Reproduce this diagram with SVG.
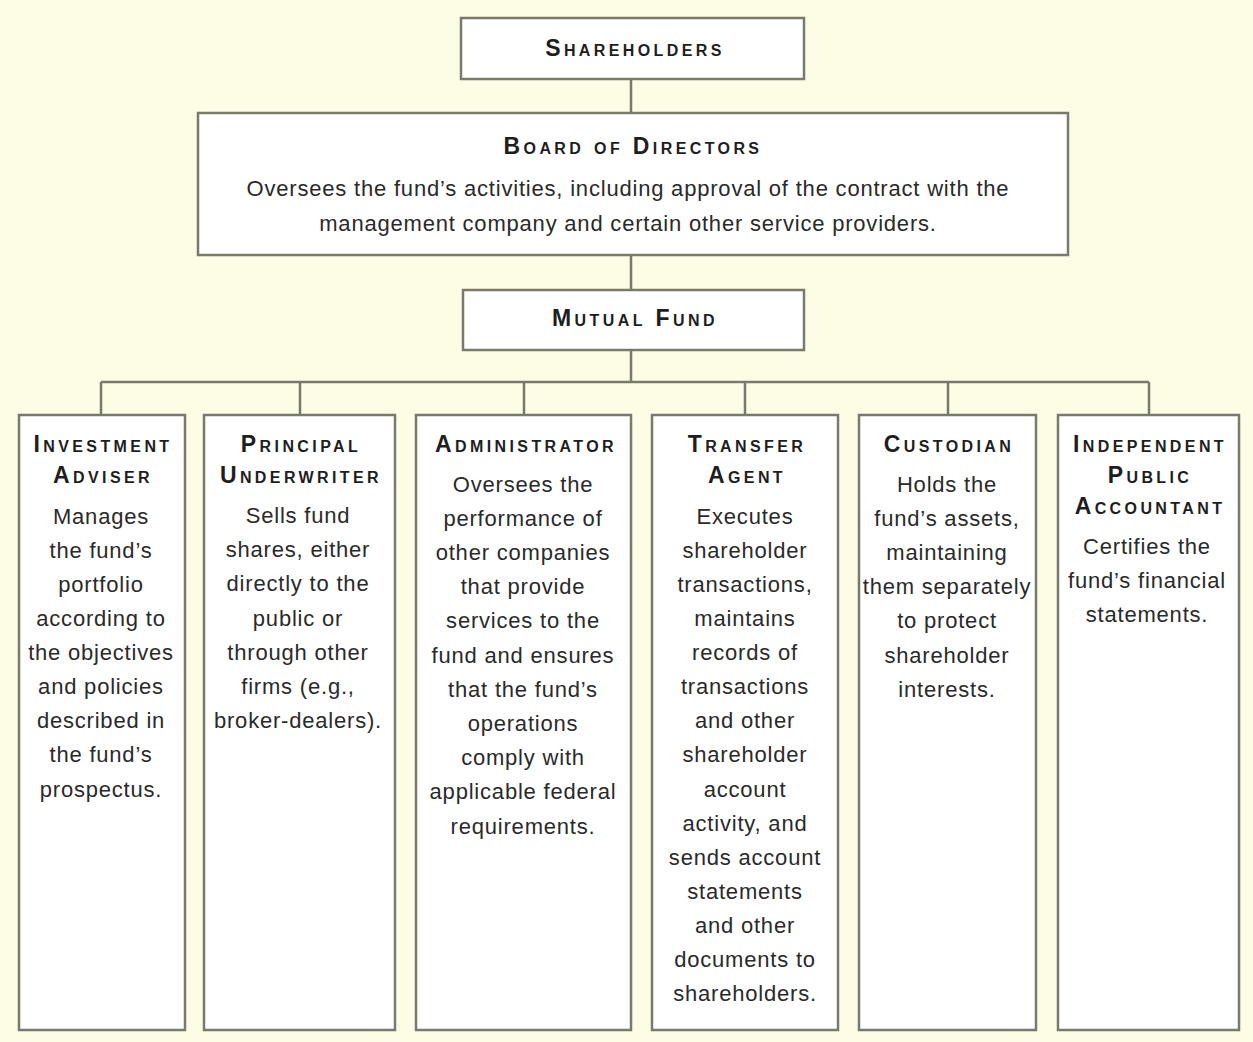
<svg xmlns="http://www.w3.org/2000/svg" width="1253" height="1042" viewBox="0 0 1253 1042">
<style>
.bg{fill:#fdfde6}
.box{fill:#ffffff;stroke:#7a7a6c;stroke-width:2.5}
.con{fill:none;stroke:#7a7a6c;stroke-width:2.5}
.t{font-family:"Liberation Sans",Arial,sans-serif;font-size:23px;font-weight:bold;font-variant:small-caps;letter-spacing:3.4px;fill:#1e1e1e;text-anchor:middle}
.b{font-family:"Liberation Sans",Arial,sans-serif;font-size:22px;letter-spacing:0.8px;fill:#2a2a2a;text-anchor:middle}
</style>
<rect class="bg" x="0" y="0" width="1253" height="1042"/>
<g id="connectors">
<path class="con" d="M631 79V113M631 255V290M631 350V382M101 382H1149M101 382V415M300 382V415M524 382V415M745 382V415M948 382V415M1149 382V415"/>
</g>
<g id="shareholders">
<rect class="box" x="461" y="18" width="343" height="61"/>
<text class="t" x="635" y="56">Shareholders</text>
</g>
<g id="board">
<rect class="box" x="198" y="113" width="870" height="142"/>
<text class="t" x="633" y="154">Board of Directors</text>
<text class="b" x="628" y="196">Oversees the fund’s activities, including approval of the contract with the</text>
<text class="b" x="628" y="231">management company and certain other service providers.</text>
</g>
<g id="mutual-fund">
<rect class="box" x="463" y="290" width="341" height="60"/>
<text class="t" x="635" y="326">Mutual Fund</text>
</g>
<g id="investment-adviser">
<rect class="box" x="19" y="415" width="166" height="615"/>
<text class="t" x="103" y="452">Investment</text>
<text class="t" x="103" y="483">Adviser</text>
<text class="b" x="101" y="524">Manages</text>
<text class="b" x="101" y="558">the fund’s</text>
<text class="b" x="101" y="592">portfolio</text>
<text class="b" x="101" y="626">according to</text>
<text class="b" x="101" y="660">the objectives</text>
<text class="b" x="101" y="694">and policies</text>
<text class="b" x="101" y="728">described in</text>
<text class="b" x="101" y="762">the fund’s</text>
<text class="b" x="101" y="797">prospectus.</text>
</g>
<g id="principal-underwriter">
<rect class="box" x="204" y="415" width="191" height="615"/>
<text class="t" x="301" y="452">Principal</text>
<text class="t" x="301" y="483">Underwriter</text>
<text class="b" x="298" y="523">Sells fund</text>
<text class="b" x="298" y="557">shares, either</text>
<text class="b" x="298" y="591">directly to the</text>
<text class="b" x="298" y="626">public or</text>
<text class="b" x="298" y="660">through other</text>
<text class="b" x="298" y="694">firms (e.g.,</text>
<text class="b" x="298" y="728">broker-dealers).</text>
</g>
<g id="administrator">
<rect class="box" x="416" y="415" width="215" height="615"/>
<text class="t" x="526" y="452">Administrator</text>
<text class="b" x="523" y="492">Oversees the</text>
<text class="b" x="523" y="526">performance of</text>
<text class="b" x="523" y="560">other companies</text>
<text class="b" x="523" y="594">that provide</text>
<text class="b" x="523" y="628">services to the</text>
<text class="b" x="523" y="663">fund and ensures</text>
<text class="b" x="523" y="697">that the fund’s</text>
<text class="b" x="523" y="731">operations</text>
<text class="b" x="523" y="765">comply with</text>
<text class="b" x="523" y="799">applicable federal</text>
<text class="b" x="523" y="834">requirements.</text>
</g>
<g id="transfer-agent">
<rect class="box" x="652" y="415" width="186" height="615"/>
<text class="t" x="747" y="452">Transfer</text>
<text class="t" x="747" y="483">Agent</text>
<text class="b" x="745" y="524">Executes</text>
<text class="b" x="745" y="558">shareholder</text>
<text class="b" x="745" y="592">transactions,</text>
<text class="b" x="745" y="626">maintains</text>
<text class="b" x="745" y="660">records of</text>
<text class="b" x="745" y="694">transactions</text>
<text class="b" x="745" y="728">and other</text>
<text class="b" x="745" y="762">shareholder</text>
<text class="b" x="745" y="797">account</text>
<text class="b" x="745" y="831">activity, and</text>
<text class="b" x="745" y="865">sends account</text>
<text class="b" x="745" y="899">statements</text>
<text class="b" x="745" y="933">and other</text>
<text class="b" x="745" y="967">documents to</text>
<text class="b" x="745" y="1001">shareholders.</text>
</g>
<g id="custodian">
<rect class="box" x="859" y="415" width="177" height="615"/>
<text class="t" x="949" y="452">Custodian</text>
<text class="b" x="947" y="492">Holds the</text>
<text class="b" x="947" y="526">fund’s assets,</text>
<text class="b" x="947" y="560">maintaining</text>
<text class="b" x="947" y="594">them separately</text>
<text class="b" x="947" y="628">to protect</text>
<text class="b" x="947" y="663">shareholder</text>
<text class="b" x="947" y="697">interests.</text>
</g>
<g id="independent-public-accountant">
<rect class="box" x="1058" y="415" width="181" height="615"/>
<text class="t" x="1150" y="452">Independent</text>
<text class="t" x="1150" y="483">Public</text>
<text class="t" x="1150" y="514">Accountant</text>
<text class="b" x="1147" y="554">Certifies the</text>
<text class="b" x="1147" y="588">fund’s financial</text>
<text class="b" x="1147" y="622">statements.</text>
</g>
</svg>
